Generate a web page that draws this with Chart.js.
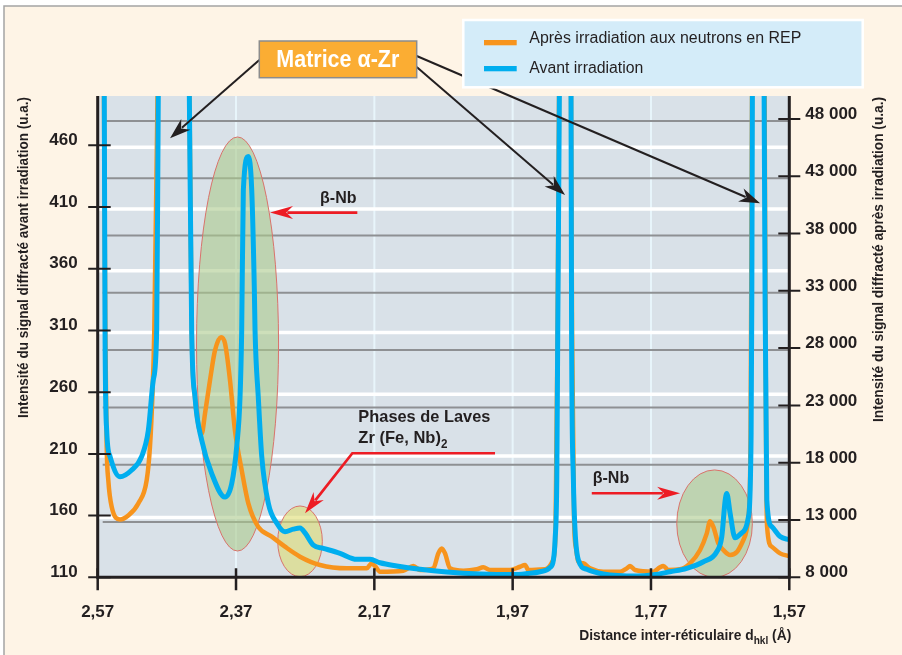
<!DOCTYPE html>
<html lang="fr">
<head>
<meta charset="utf-8">
<title>Diffraction – Matrice α-Zr</title>
<script src="https://cdn.jsdelivr.net/npm/chart.js@4.4.1/dist/chart.umd.min.js"></script>
<style>
  html, body { margin: 0; padding: 0; background: #fff; }
  #wrap { width: 902px; height: 655px; }
</style>
</head>
<body>
<div id="wrap"><canvas id="chart" width="902" height="655"></canvas></div>
<script>
// Distance inter-réticulaire (Å) et intensités
const blueD = [2.5700, 2.5605, 2.5594, 2.5570, 2.5522, 2.5378, 2.5208, 2.5064, 2.4968, 2.4896,
  2.4847, 2.4824, 2.4604, 2.4375, 2.4341, 2.4293, 2.4196, 2.4051, 2.3859, 2.3762,
  2.3690, 2.3642, 2.3618, 2.3594, 2.3522, 2.3473, 2.3435, 2.3425, 2.3378, 2.3328,
  2.3233, 2.3112, 2.2992, 2.2871, 2.2775, 2.2702, 2.2582, 2.2438, 2.2196, 2.1955,
  2.1762, 2.1618, 2.1376, 2.1039, 2.0653, 2.0172, 1.9690, 1.9496, 1.9304, 1.9159,
  1.9111, 1.9087, 1.9062, 1.9048, 1.9025, 1.8942, 1.8856, 1.8848, 1.8822, 1.8798,
  1.8750, 1.8629, 1.8388, 1.7905, 1.7665, 1.7424, 1.7182, 1.6942, 1.6749, 1.6676,
  1.6628, 1.6604, 1.6556, 1.6484, 1.6387, 1.6291, 1.6252, 1.6242, 1.6234, 1.6151,
  1.6064, 1.6050, 1.6025, 1.5953, 1.5833, 1.5700];
const blueI = [1500, 500, 310, 229, 208, 191.5, 197, 208, 229, 270,
  310, 500, 1800, 500, 310, 256, 221, 194, 175, 186,
  216, 256, 310, 424, 451, 424, 343, 310, 256, 208,
  170, 154, 147, 149, 150, 146, 136, 133.5, 129.4, 124.6,
  124.6, 121.8, 119.2, 116.5, 114.3, 112.7, 112.2, 113, 114.5, 118,
  124, 140, 189, 310, 500, 1800, 500, 310, 189, 148,
  124, 116.5, 112.7, 111, 112, 114.5, 117.3, 122.6, 130.7, 143,
  172, 178, 162, 142, 146, 159, 227, 335, 500, 1800,
  500, 335, 172.6, 151, 143, 140.5];

const orangeD = [2.5700, 2.5609, 2.5590, 2.5570, 2.5547, 2.5498, 2.5378, 2.5258, 2.5113, 2.4991,
  2.4944, 2.4910, 2.4882, 2.4835, 2.4604, 2.4373, 2.4341, 2.4293, 2.4235, 2.4196,
  2.4148, 2.4076, 2.4004, 2.3917, 2.3859, 2.3787, 2.3715, 2.3618, 2.3522, 2.3378,
  2.3184, 2.2992, 2.2775, 2.2485, 2.2099, 2.1810, 2.1738, 2.1690, 2.1618, 2.1281,
  2.1136, 2.1039, 2.0847, 2.0775, 2.0725, 2.0678, 2.0605, 2.0413, 2.0219, 2.0124,
  2.0027, 1.9738, 1.9593, 1.9521, 1.9473, 1.9232, 1.9116, 1.9080, 1.9051, 1.9029,
  1.8942, 1.8856, 1.8841, 1.8812, 1.8783, 1.8750, 1.8678, 1.8581, 1.8388, 1.8147,
  1.8050, 1.8003, 1.7930, 1.7665, 1.7569, 1.7521, 1.7449, 1.7279, 1.7135, 1.6990,
  1.6893, 1.6846, 1.6798, 1.6726, 1.6653, 1.6556, 1.6455, 1.6364, 1.6291, 1.6260,
  1.6239, 1.6151, 1.6057, 1.6036, 1.6021, 1.5953, 1.5833, 1.5700];
const orangeI = [150000, 50000, 29500, 19400, 16500, 14150, 13050, 13400, 14450, 16500,
  19400, 23700, 29500, 50000, 150000, 50000, 29500, 23700, 21000, 20540,
  22300, 25200, 27800, 28950, 28400, 25200, 20800, 17350, 14450, 12400,
  11550, 10670, 9800, 9070, 8780, 8780, 9220, 8980, 8490, 8580,
  8980, 8640, 8780, 10090, 10520, 10090, 8780, 8580, 8700, 8870,
  8640, 8640, 8920, 9070, 8640, 8700, 9500, 12000, 29500, 50000,
  150000, 50000, 29500, 13000, 10500, 9360, 9220, 8780, 8490, 8490,
  8780, 8980, 8640, 8490, 8870, 8980, 8640, 8700, 9220, 10380,
  11830, 12900, 12400, 10960, 10380, 9950, 10230, 11250, 13280, 20000,
  50000, 150000, 50000, 20000, 12400, 10670, 10090, 9850];

const xTicks = [2.57, 2.37, 2.17, 1.97, 1.77, 1.57];
const leftTicks = [110, 160, 210, 260, 310, 360, 410, 460];
const rightTicks = [8000, 13000, 18000, 23000, 28000, 33000, 38000, 43000, 48000];

const BLUE = '#00AEEF';
const ORANGE = '#F7941D';
const INK = '#231F20';
const RED = '#ED1C24';
const CREAM = '#FEF4E6';
const PLOT_BG = '#D9E1E8';
const FAMILY = '"Liberation Sans", Arial, Helvetica, sans-serif';

// annotations, positions in data units (d en Å, intensité axe gauche)
const ellipses = [
  { d1: 2.4271, d2: 2.3085, v1: 466.8, v2: 131.3, fill: 'rgba(172,202,140,0.6)' },
  { d1: 2.3097, d2: 2.2452, v1: 167.8, v2: 110.5, fill: 'rgba(222,220,112,0.6)' },
  { d1: 1.7327, d2: 1.6234, v1: 197.0, v2: 110.0, fill: 'rgba(172,202,140,0.6)' }
];
const matriceTips = [[2.4654, 465.8], [1.8942, 419.8], [1.6122, 413.1]];

const toPoints = (xs, ys) => xs.map((d, i) => ({ x: d, y: ys[i] }));
const fmtSpace = v => String(v).replace(/\B(?=(\d{3})+(?!\d))/g, ' ');

function arrowHead(ctx, x0, y0, x1, y1, len, half, color) {
    const ang = Math.atan2(y1 - y0, x1 - x0);
    ctx.save();
    ctx.translate(x1, y1);
    ctx.rotate(ang);
    ctx.beginPath();
    ctx.moveTo(0, 0);
    ctx.lineTo(-len, -half);
    ctx.lineTo(-len * 0.7, 0);
    ctx.lineTo(-len, half);
    ctx.closePath();
    ctx.fillStyle = color;
    ctx.fill();
    ctx.restore();
}

function arrow(ctx, pts, color, lw, len, half) {
    const n = pts.length;
    const [xa, ya] = pts[n - 2];
    const [xb, yb] = pts[n - 1];
    const segLen = Math.hypot(xb - xa, yb - ya);
    const back = len * 0.75 / segLen;
    ctx.save();
    ctx.strokeStyle = color;
    ctx.lineWidth = lw;
    ctx.lineJoin = 'miter';
    ctx.beginPath();
    ctx.moveTo(pts[0][0], pts[0][1]);
    for (let i = 1; i < n - 1; i++) ctx.lineTo(pts[i][0], pts[i][1]);
    ctx.lineTo(xb - (xb - xa) * back, yb - (yb - ya) * back);
    ctx.stroke();
    ctx.restore();
    arrowHead(ctx, xa, ya, xb, yb, len, half, color);
}

// parts: [{t, size, dy}] -> drawn in a row, squeezed to maxW if wider
function richText(ctx, parts, x, y, maxW, align, weight, color) {
    let w = 0;
    parts.forEach(p => {
        ctx.font = `${weight} ${p.size}px ${FAMILY}`;
        p.w = ctx.measureText(p.t).width;
        w += p.w;
    });
    const k = maxW && w > maxW ? maxW / w : 1;
    ctx.save();
    ctx.translate(x, y);
    ctx.scale(k, 1);
    let cx = align === 'right' ? -w : align === 'center' ? -w / 2 : 0;
    ctx.textAlign = 'left';
    ctx.textBaseline = 'alphabetic';
    ctx.fillStyle = color;
    parts.forEach(p => {
        ctx.font = `${weight} ${p.size}px ${FAMILY}`;
        ctx.fillText(p.t, cx, p.dy || 0);
        cx += p.w;
    });
    ctx.restore();
}

function vTitle(ctx, text, cx, cy, maxW) {
    ctx.save();
    ctx.translate(cx, cy);
    ctx.rotate(-Math.PI / 2);
    ctx.font = `bold 14px ${FAMILY}`;
    ctx.fillStyle = INK;
    ctx.textAlign = 'center';
    ctx.textBaseline = 'middle';
    ctx.fillText(text, 0, 0, maxW);
    ctx.restore();
}

const decor = {
    id: 'decor',
    beforeDraw(chart) {
        const { ctx, chartArea: a, scales } = chart;
        const W = chart.width, H = chart.height;
        ctx.save();
        ctx.fillStyle = '#ffffff';
        ctx.fillRect(0, 0, W, H);
        ctx.fillStyle = CREAM;
        ctx.fillRect(4, 6, W - 4, H - 6);
        ctx.strokeStyle = '#A4A4A4';
        ctx.lineWidth = 1.5;
        ctx.beginPath();
        ctx.moveTo(4, H);
        ctx.lineTo(4, 6);
        ctx.lineTo(W, 6);
        ctx.stroke();

        ctx.fillStyle = PLOT_BG;
        ctx.fillRect(a.left, a.top, a.right - a.left, a.bottom - a.top);

        // pale vertical lines
        ctx.strokeStyle = '#E8F5FB';
        ctx.lineWidth = 2;
        xTicks.slice(1, -1).forEach(d => {
            const x = scales.x.getPixelForValue(d);
            ctx.beginPath();
            ctx.moveTo(x, a.top);
            ctx.lineTo(x, a.bottom);
            ctx.stroke();
        });
        // white lines on left-axis values
        ctx.strokeStyle = '#ffffff';
        ctx.lineWidth = 3.5;
        leftTicks.slice(1).forEach(v => {
            const y = scales.yL.getPixelForValue(v) + 2;
            ctx.beginPath();
            ctx.moveTo(a.left, y);
            ctx.lineTo(a.right, y);
            ctx.stroke();
        });
        // grey lines on right-axis values
        ctx.strokeStyle = '#8E9093';
        ctx.lineWidth = 2;
        rightTicks.slice(1).forEach(v => {
            const y = scales.yR.getPixelForValue(v) + 2;
            ctx.beginPath();
            ctx.moveTo(a.left + 5, y);
            ctx.lineTo(a.right, y);
            ctx.stroke();
        });
        ctx.restore();
    },
    beforeDatasetsDraw(chart) {
        const { ctx, scales } = chart;
        ctx.save();
        ellipses.forEach(e => {
            const x1 = scales.x.getPixelForValue(e.d1), x2 = scales.x.getPixelForValue(e.d2);
            const y1 = scales.yL.getPixelForValue(e.v1), y2 = scales.yL.getPixelForValue(e.v2);
            ctx.beginPath();
            ctx.ellipse((x1 + x2) / 2, (y1 + y2) / 2, Math.abs(x2 - x1) / 2, Math.abs(y2 - y1) / 2, 0, 0, Math.PI * 2);
            ctx.fillStyle = e.fill;
            ctx.fill();
            ctx.strokeStyle = '#D9736B';
            ctx.lineWidth = 1;
            ctx.stroke();
        });
        ctx.restore();
    },
    afterDatasetsDraw(chart) {
        const { ctx, chartArea: a, scales } = chart;
        const px = d => scales.x.getPixelForValue(d);
        const pyL = v => scales.yL.getPixelForValue(v);
        ctx.save();

        // axes
        ctx.strokeStyle = INK;
        ctx.lineWidth = 3;
        ctx.beginPath();
        ctx.moveTo(a.left, a.top);
        ctx.lineTo(a.left, a.bottom);
        ctx.lineTo(a.right, a.bottom);
        ctx.moveTo(a.right, a.top);
        ctx.lineTo(a.right, a.bottom + 1.5);
        ctx.stroke();
        ctx.lineWidth = 2;
        ctx.beginPath();
        leftTicks.forEach(v => {
            const y = pyL(v);
            ctx.moveTo(a.left - 9.5, y);
            ctx.lineTo(a.left + 13, y);
        });
        rightTicks.forEach(v => {
            const y = scales.yR.getPixelForValue(v);
            ctx.moveTo(a.right - 11, y);
            ctx.lineTo(a.right + 11, y);
        });
        ctx.stroke();
        ctx.lineWidth = 2.5;
        ctx.beginPath();
        xTicks.forEach(d => {
            const x = px(d);
            ctx.moveTo(x, a.bottom - 9);
            ctx.lineTo(x, a.bottom + 13);
        });
        ctx.stroke();

        // axis titles
        vTitle(ctx, 'Intensité du signal diffracté avant irradiation (u.a.)', 24, 257.5, 321);
        vTitle(ctx, 'Intensité du signal diffracté après irradiation (u.a.)', 879, 259.5, 325);
        richText(ctx, [
            { t: 'Distance inter-réticulaire d', size: 15 },
            { t: 'hkl', size: 11, dy: 4 },
            { t: ' (Å)', size: 15 }
        ], a.right + 2, 640, 212, 'right', 'bold', INK);

        // β-Nb (gauche)
        richText(ctx, [{ t: 'β-Nb', size: 16 }], px(2.2485), pyL(413.1), 37, 'left', 'bold', INK);
        arrow(ctx, [[px(2.1946), pyL(405.5)], [px(2.3208), pyL(405.5)]], RED, 2.7, 23, 6.5);

        // Phases de Laves
        richText(ctx, [{ t: 'Phases de Laves', size: 17 }], px(2.1931), pyL(235.9), 132, 'left', 'bold', INK);
        richText(ctx, [
            { t: 'Zr (Fe, Nb)', size: 17 },
            { t: '2', size: 12, dy: 5 }
        ], px(2.1931), pyL(219.1), 89, 'left', 'bold', INK);
        arrow(ctx, [[px(1.9955), pyL(210.5)], [px(2.2018), pyL(210.5)], [px(2.2702), pyL(161.9)]], RED, 2.7, 22, 6.5);

        // β-Nb (droite)
        richText(ctx, [{ t: 'β-Nb', size: 16 }], px(1.8542), pyL(186.2), 37, 'left', 'bold', INK);
        arrow(ctx, [[px(1.8556), pyL(178.1)], [px(1.7279), pyL(178.1)]], RED, 2.7, 23, 6.5);

        // Matrice α-Zr
        const starts = [[259.3, 60], [416.7, 67], [416.7, 56]];
        matriceTips.forEach((t, i) => {
            arrow(ctx, [starts[i], [px(t[0]), pyL(t[1])]], INK, 2, 21, 7);
        });
        ctx.fillStyle = '#FBAD33';
        ctx.fillRect(259.3, 41, 157.4, 36.7);
        ctx.strokeStyle = '#8C8C8C';
        ctx.lineWidth = 1.5;
        ctx.strokeRect(259.3, 41, 157.4, 36.7);
        richText(ctx, [{ t: 'Matrice α-Zr', size: 24 }], 337.8, 66.5, 123, 'center', 'bold', '#ffffff');

        // legend
        ctx.fillStyle = '#D4ECF9';
        ctx.fillRect(463.3, 20, 399.4, 67.3);
        ctx.strokeStyle = '#ffffff';
        ctx.lineWidth = 2.5;
        ctx.strokeRect(463.3, 20, 399.4, 67.3);
        const ds = chart.data.datasets;
        const rows = [{ y: 40, base: 43.3, w: 272 }, { y: 66, base: 72.7, w: 114 }];
        ds.forEach((s, i) => {
            const r = rows[i];
            ctx.fillStyle = s.borderColor;
            ctx.fillRect(484, r.y, 32.7, 5.3);
            richText(ctx, [{ t: s.label, size: 16 }], 529.3, r.base, r.w, 'left', 'normal', INK);
        });
        ctx.restore();
    }
};

const tickFont = { family: FAMILY, size: 17, weight: 'bold' };

new Chart(document.getElementById('chart'), {
    type: 'line',
    data: {
        datasets: [
            {
                label: 'Après irradiation aux neutrons en REP',
                data: toPoints(orangeD, orangeI),
                yAxisID: 'yR',
                borderColor: ORANGE,
                borderWidth: 4.5,
                order: 2
            },
            {
                label: 'Avant irradiation',
                data: toPoints(blueD, blueI),
                yAxisID: 'yL',
                borderColor: BLUE,
                borderWidth: 5,
                order: 1
            }
        ]
    },
    options: {
        responsive: false,
        animation: false,
        layout: { padding: { top: 96, left: 0, right: 0, bottom: 0 } },
        elements: {
            point: { radius: 0 },
            line: { cubicInterpolationMode: 'monotone', borderJoinStyle: 'round', borderCapStyle: 'round', fill: false }
        },
        plugins: { legend: { display: false }, tooltip: { enabled: false } },
        scales: {
            x: {
                type: 'linear', reverse: true, min: 1.57, max: 2.57, position: 'bottom',
                afterBuildTicks: s => { s.ticks = xTicks.map(v => ({ value: v })); },
                afterFit: s => { s.height = 77.7; },
                grid: { display: false, drawTicks: false },
                border: { display: false },
                ticks: {
                    padding: 25, font: tickFont, color: INK, autoSkip: false, maxRotation: 0,
                    callback: v => v.toFixed(2).replace('.', ',')
                }
            },
            yL: {
                type: 'linear', position: 'left', min: 110, max: 500,
                afterBuildTicks: s => { s.ticks = leftTicks.map(v => ({ value: v })); },
                afterFit: s => { s.width = 97.7; },
                grid: { display: false, drawTicks: false },
                border: { display: false },
                ticks: { padding: 20, labelOffset: -5, font: tickFont, color: INK, callback: v => String(v) }
            },
            yR: {
                type: 'linear', position: 'right', min: 8000, max: 50000,
                afterBuildTicks: s => { s.ticks = rightTicks.map(v => ({ value: v })); },
                afterFit: s => { s.width = 112.7; },
                grid: { display: false, drawTicks: false },
                border: { display: false },
                ticks: { padding: 16, labelOffset: -4.5, font: tickFont, color: INK, callback: v => fmtSpace(v) }
            }
        }
    },
    plugins: [decor]
});
</script>
</body>
</html>
